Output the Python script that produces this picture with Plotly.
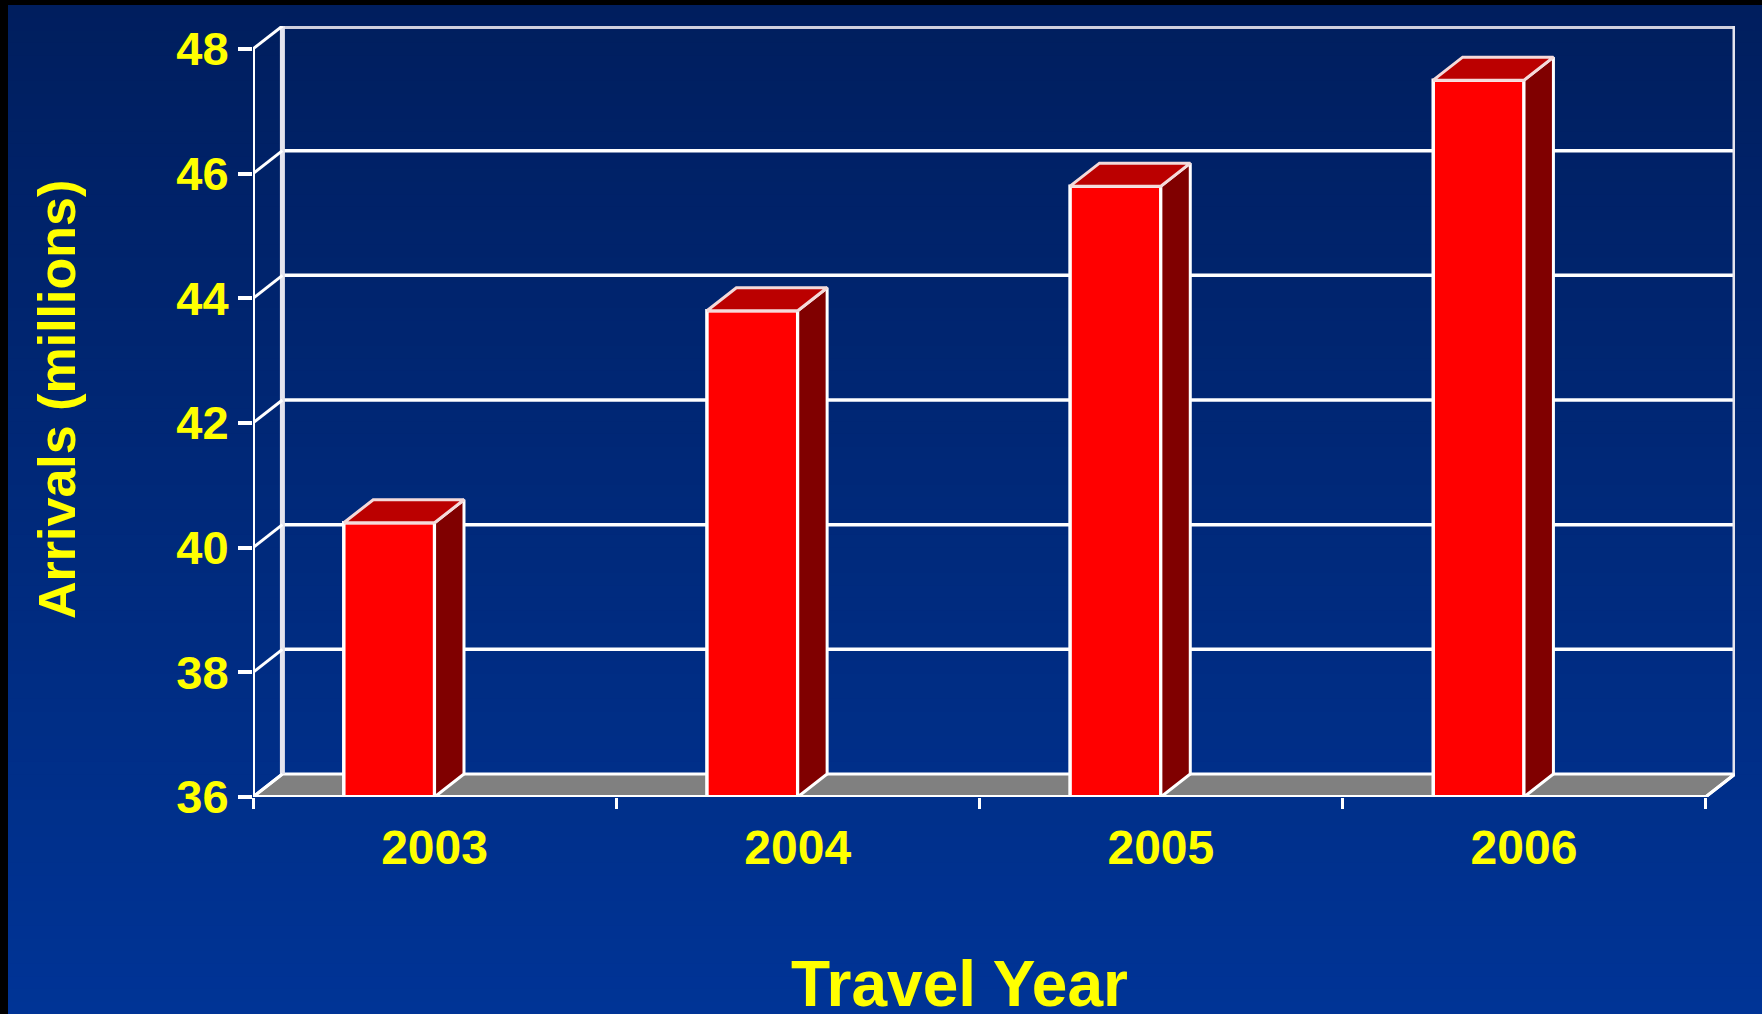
import plotly.graph_objects as go

# ---- data ----
years = ["2003", "2004", "2005", "2006"]
arrivals = [40.4, 43.8, 45.8, 47.5]
y_tick_vals = [36, 38, 40, 42, 44, 46, 48]
x_title = "Travel Year"
y_title = "Arrivals (millions)"

# ---- geometry / style ----
W, H = 1762, 1014
L, R, T, B = 253, 27, 26, 217
DX = 0.081      # 3-D depth, category units
DY = 0.369      # 3-D depth, value units
BAR_W = 0.25
Y0, Y1 = y_tick_vals[0], y_tick_vals[-1]
X0, X1 = -0.5, len(years) - 0.5
YELLOW = "#FFFF00"
FONT = "Liberation Sans, Arial, sans-serif"

pw, ph = W - L - R, H - T - B


def paper_x(px):
    return (px - L) / pw


def paper_y(py):
    return (H - B - py) / ph


xs = list(range(len(years)))

fig = go.Figure()

# front faces of bars
fig.add_trace(go.Bar(
    x=xs, y=arrivals, width=BAR_W, offset=-BAR_W,
    marker=dict(color="#FF0000", line=dict(color="white", width=3.5)),
    hoverinfo="skip", showlegend=False,
))

# side & top faces
for x, v in zip(xs, arrivals):
    xr, xl = x, x - BAR_W
    fig.add_trace(go.Scatter(
        x=[xr, xr, xr + DX, xr + DX, xr], y=[Y0, v, v + DY, Y0 + DY, Y0],
        mode="lines", fill="toself", fillcolor="#800000",
        line=dict(color="white", width=3), hoverinfo="skip", showlegend=False,
    ))
    fig.add_trace(go.Scatter(
        x=[xl, xr, xr + DX, xl + DX, xl], y=[v, v, v + DY, v + DY, v],
        mode="lines", fill="toself", fillcolor="#BB0000",
        line=dict(color="#F4DADA", width=3), hoverinfo="skip", showlegend=False,
    ))

shapes = []

# background gradient
n = 80
top_c, bot_c = (0, 30, 94), (0, 52, 150)
y_start, y_end = 5, H
for i in range(n):
    t = i / (n - 1)
    c = tuple(round(a + (b - a) * t) for a, b in zip(top_c, bot_c))
    ya = y_start + (y_end - y_start) * i / n
    yb = y_start + (y_end - y_start) * (i + 1) / n
    shapes.append(dict(
        type="rect", xref="paper", yref="paper", layer="below",
        x0=paper_x(8), x1=paper_x(W), y0=paper_y(yb + 1), y1=paper_y(ya),
        fillcolor="rgb(%d,%d,%d)" % c, line=dict(width=0),
    ))

# floor
shapes.append(dict(
    type="path", layer="below", xref="x", yref="y",
    path=f"M {X0},{Y0} L {X1},{Y0} L {X1 + DX},{Y0 + DY} L {X0 + DX},{Y0 + DY} Z",
    fillcolor="#808080", line=dict(color="white", width=3),
))

# back wall grid lines
for v in y_tick_vals[1:-1]:
    shapes.append(dict(type="line", layer="below", xref="x", yref="y",
                       x0=X0 + DX, x1=X1 + DX, y0=v + DY, y1=v + DY,
                       line=dict(color="white", width=3.5)))
# back wall top edge
shapes.append(dict(type="line", layer="below", xref="x", yref="y",
                   x0=X0 + DX, x1=X1 + DX, y0=Y1 + DY, y1=Y1 + DY,
                   line=dict(color="#CFCFDD", width=6)))
# back wall vertical edges
for xv in (X0 + DX, X1 + DX):
    shapes.append(dict(type="line", layer="below", xref="x", yref="y",
                       x0=xv, x1=xv, y0=Y0 + DY, y1=Y1 + DY,
                       line=dict(color="#E4E4EE", width=5)))
# side wall connectors
for v in y_tick_vals:
    shapes.append(dict(type="line", layer="below", xref="x", yref="y",
                       x0=X0, x1=X0 + DX, y0=v, y1=v + DY,
                       line=dict(color="white", width=3)))
# front y axis line
shapes.append(dict(type="line", xref="x", yref="y",
                   x0=X0, x1=X0, y0=Y0, y1=Y1,
                   line=dict(color="white", width=4)))
# front x axis line and right floor edge
shapes.append(dict(type="line", xref="x", yref="y",
                   x0=X0, x1=X1, y0=Y0, y1=Y0,
                   line=dict(color="white", width=4)))
shapes.append(dict(type="line", xref="x", yref="y",
                   x0=X1, x1=X1 + DX, y0=Y0, y1=Y0 + DY,
                   line=dict(color="white", width=3)))

annotations = [
    dict(text=x_title, xref="paper", yref="paper", x=paper_x(959), y=paper_y(984),
         xanchor="center", yanchor="middle", showarrow=False,
         font=dict(family=FONT, size=64, color=YELLOW, weight="bold")),
    dict(text=y_title, xref="paper", yref="paper", x=paper_x(57), y=paper_y(400),
         xanchor="center", yanchor="middle", showarrow=False, textangle=-90,
         font=dict(family=FONT, size=52, color=YELLOW, weight="bold")),
]

fig.update_layout(
    width=W, height=H,
    margin=dict(l=L, r=R, t=T, b=B, pad=0),
    paper_bgcolor="black", plot_bgcolor="rgba(0,0,0,0)",
    showlegend=False, shapes=shapes, annotations=annotations,
    xaxis=dict(
        range=[X0, X1 + DX], tickmode="array", tickvals=xs, ticktext=years,
        ticks="", showgrid=False, zeroline=False, showline=False,
        ticklabelstandoff=18,
        tickfont=dict(family=FONT, size=48, color=YELLOW, weight="bold"),
        minor=dict(tickvals=[X0 + i for i in range(len(years) + 1)], ticks="outside",
                   ticklen=11, tickwidth=3, tickcolor="white", showgrid=False),
        fixedrange=True,
    ),
    yaxis=dict(
        range=[Y0, Y1 + DY], tickmode="array", tickvals=y_tick_vals,
        ticks="outside", ticklen=14, tickwidth=3.5, tickcolor="white",
        showgrid=False, zeroline=False, showline=False,
        tickfont=dict(family=FONT, size=47, color=YELLOW, weight="bold"),
        fixedrange=True,
    ),
)

fig.write_html(
    "out.html",
    config={"displayModeBar": False},
    post_script="document.body.style.margin='0px';document.body.style.overflow='hidden';",
)
